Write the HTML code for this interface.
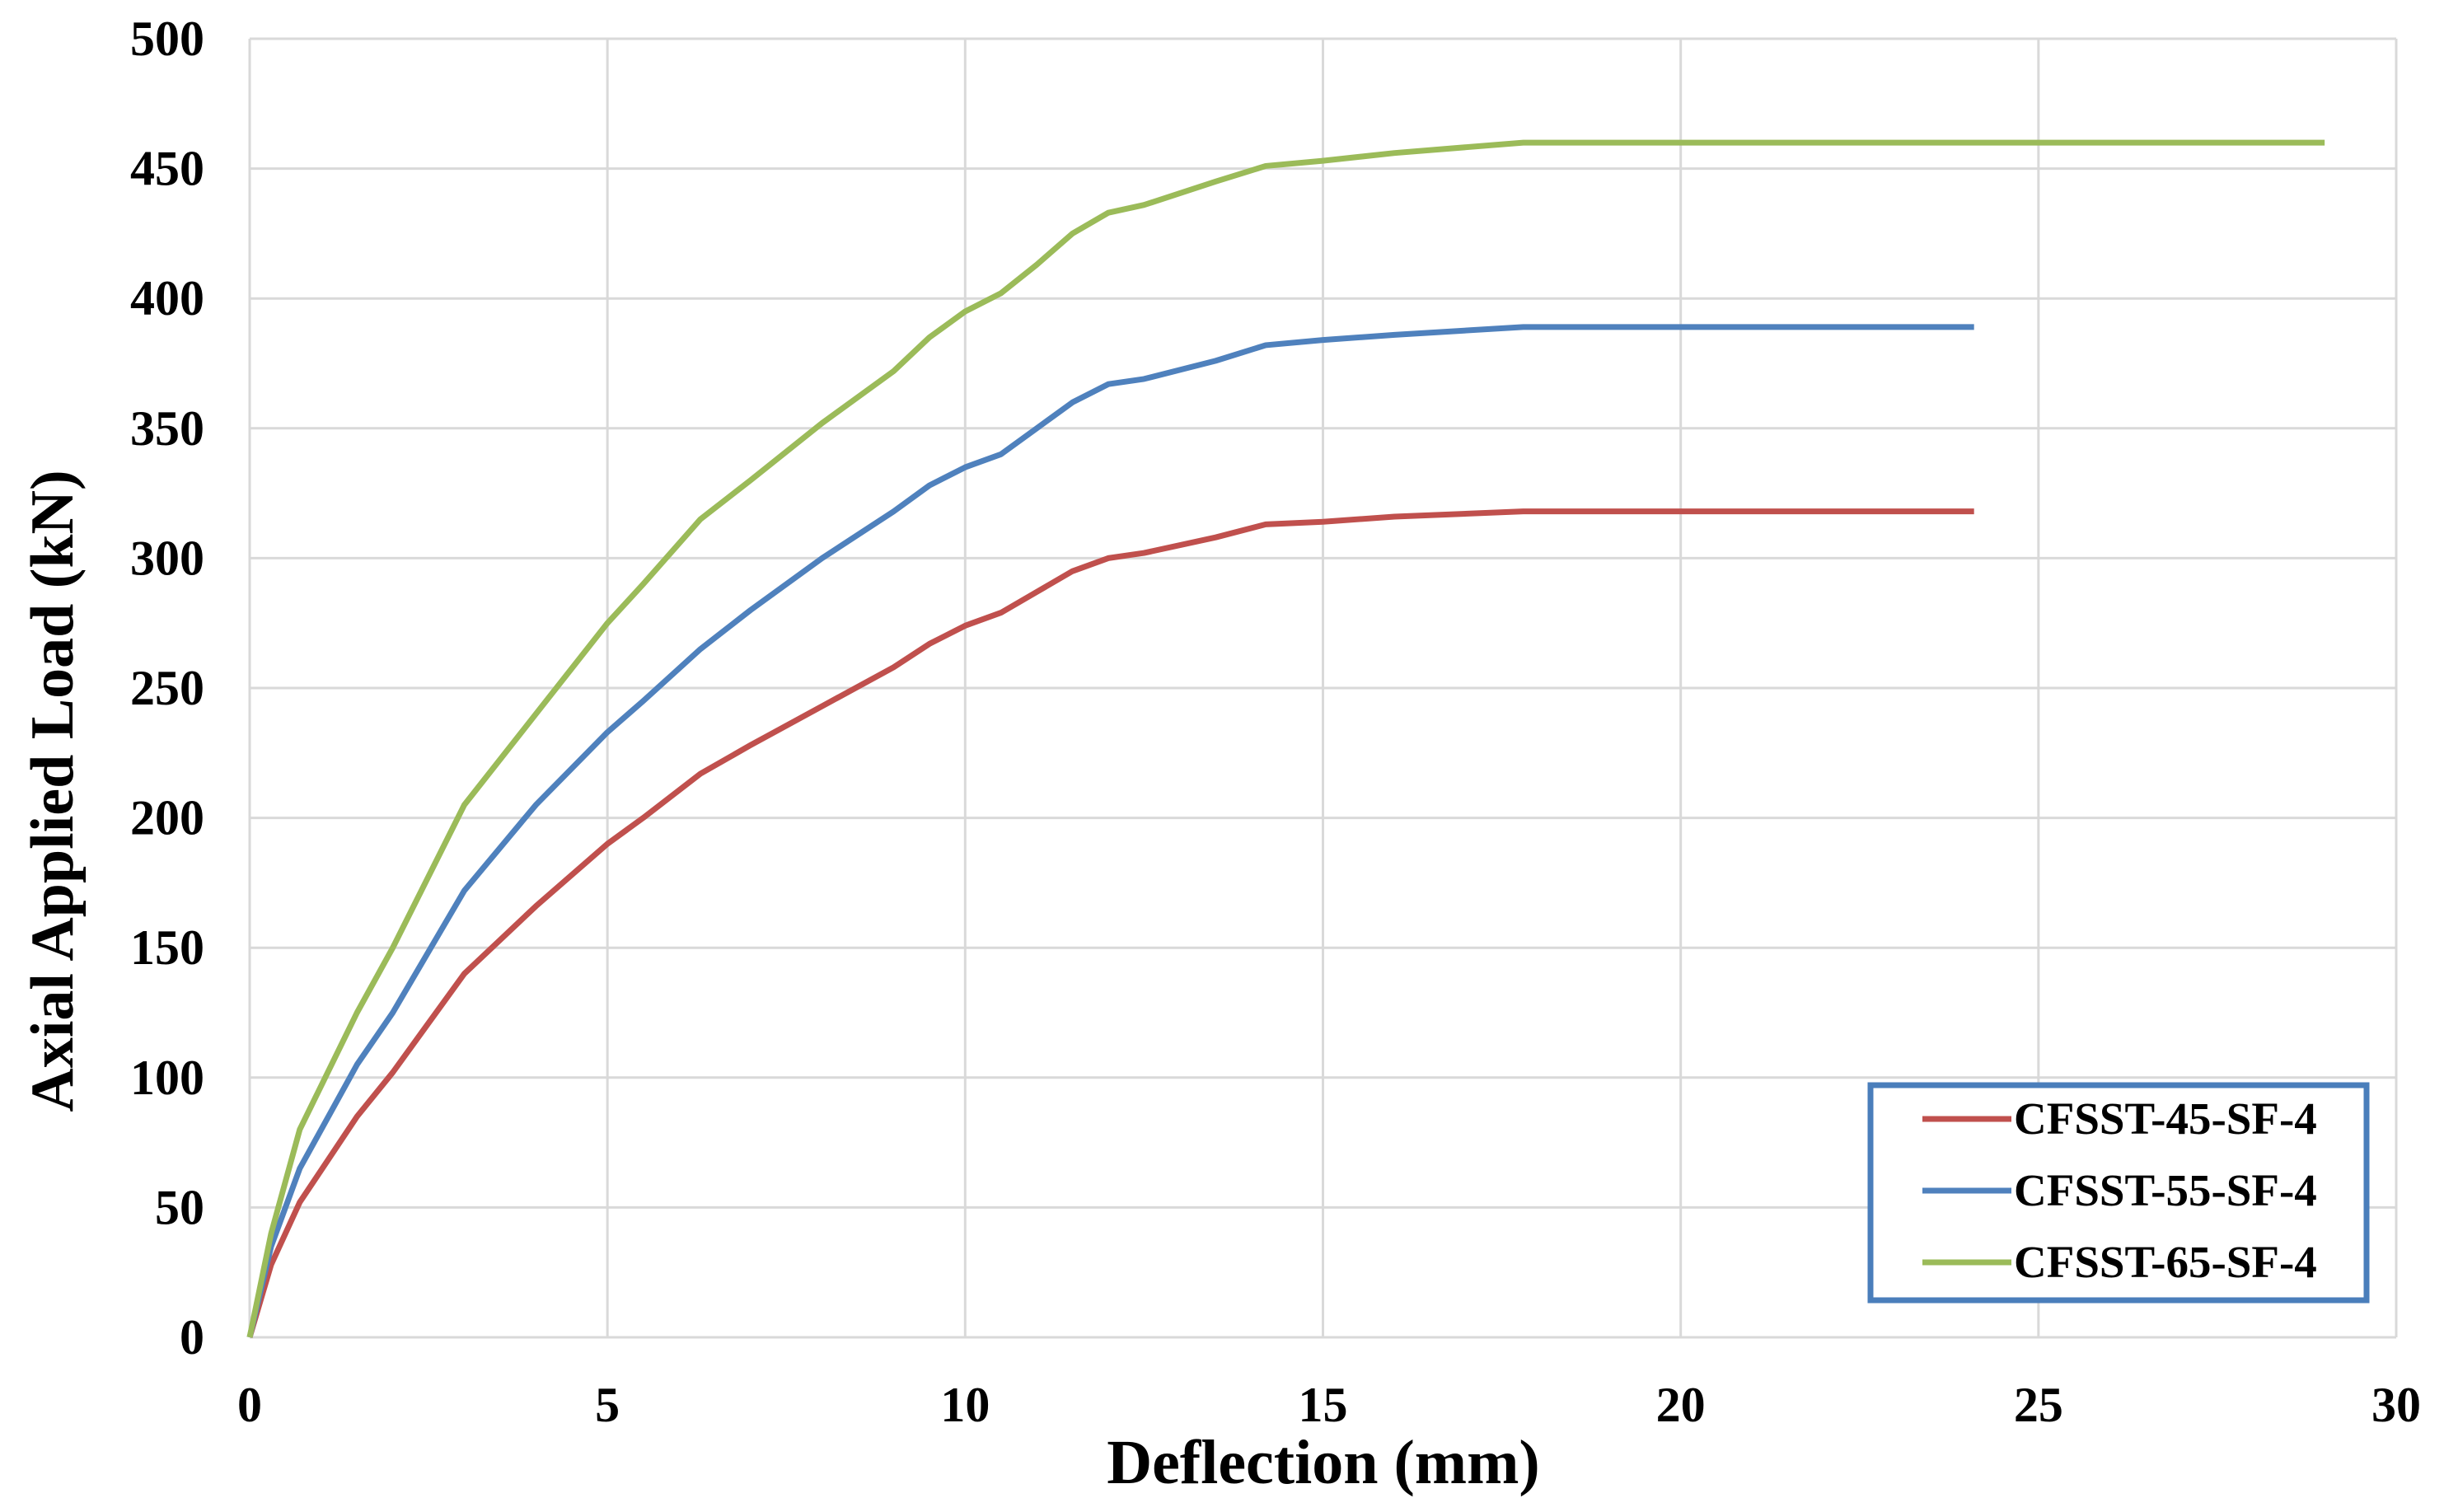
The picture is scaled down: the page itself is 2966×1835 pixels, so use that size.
<!DOCTYPE html>
<html><head><meta charset="utf-8"><style>body{margin:0;background:#fff}svg{display:block}</style></head>
<body>
<svg id="chart" width="2966" height="1835" xmlns="http://www.w3.org/2000/svg" font-family="Liberation Serif, serif" font-weight="bold">
<g id="grid"></g>
<g id="ticks"></g>
<g id="series"></g>
<text x="1606" y="1800" text-anchor="middle" font-size="76">Deflection (mm)</text>
<text transform="translate(88,960) rotate(-90)" text-anchor="middle" font-size="74">Axial Applied Load (kN)</text>
<g>
<rect x="2270" y="1317" width="602" height="261" fill="#fff" stroke="#4a7ebb" stroke-width="7"/>
<line x1="2333" y1="1358" x2="2441" y2="1358" stroke="#c0504d" stroke-width="7"/>
<text x="2444" y="1376" font-size="55">CFSST-45-SF-4</text>
<line x1="2333" y1="1445" x2="2441" y2="1445" stroke="#4f81bd" stroke-width="7"/>
<text x="2444" y="1463" font-size="55">CFSST-55-SF-4</text>
<line x1="2333" y1="1532" x2="2441" y2="1532" stroke="#9bbb59" stroke-width="7"/>
<text x="2444" y="1550" font-size="55">CFSST-65-SF-4</text>
</g>
</svg>
<script>
const xTicks=[0,5,10,15,20,25,30];
const yTicks=[0,50,100,150,200,250,300,350,400,450,500];
const seriesNames=["CFSST-45-SF-4","CFSST-55-SF-4","CFSST-65-SF-4"];
const seriesColors=["#c0504d","#4f81bd","#9bbb59"];
const xRed=[0,0.3,0.7,1.5,2,3,4,5,5.5,6.3,7,8,9,9.5,10,10.5,11,11.5,12,12.5,13.5,14.2,15,16,17.8,24.1];
const yRed=[0,28,52,85,102,140,166,190,200,217,228,243,258,267,274,279,287,295,300,302,308,313,314,316,318,318];
const xBlue=[0,0.3,0.7,1.5,2,3,4,5,5.5,6.3,7,8,9,9.5,10,10.5,11,11.5,12,12.5,13.5,14.2,15,16,17.8,24.1];
const yBlue=[0,35,65,105,125,172,205,233,245,265,280,300,318,328,335,340,350,360,367,369,376,382,384,386,389,389];
const xGreen=[0,0.3,0.7,1.5,2,3,4,5,5.5,6.3,7,8,9,9.5,10,10.5,11,11.5,12,12.5,13.5,14.2,15,16,17.8,29];
const yGreen=[0,40,80,125,150,205,240,275,290,315,330,352,372,385,395,402,413,425,433,436,445,451,453,456,460,460];
const L=303,R=2908,T=47,B=1623;
const sx=v=>L+(R-L)*v/30, sy=v=>B-(B-T)*v/500;
const NS="http://www.w3.org/2000/svg";
const grid=document.getElementById('grid'),ticks=document.getElementById('ticks'),ser=document.getElementById('series');
function mk(tag,attrs,parent){const e=document.createElementNS(NS,tag);for(const k in attrs)e.setAttribute(k,attrs[k]);parent.appendChild(e);return e;}
xTicks.forEach(t=>{
 const g=mk('line',{x1:sx(t),x2:sx(t),y1:T,y2:B,stroke:'#d9d9d9','stroke-width':3},grid);
 
 
 const tx=mk('text',{x:sx(t),y:1725,'text-anchor':'middle','font-size':60},ticks);tx.textContent=t;
 
 
});
yTicks.forEach(t=>{
 const g=mk('line',{x1:L,x2:R,y1:sy(t),y2:sy(t),stroke:'#d9d9d9','stroke-width':3},grid);
 
 
 const tx=mk('text',{x:248,y:sy(t)+20,'text-anchor':'end','font-size':60},ticks);tx.textContent=t;
 
 
});
[[xRed,yRed],[xBlue,yBlue],[xGreen,yGreen]].forEach((s,i)=>{
 const pts=s[0].map((x,j)=>sx(x)+','+sy(s[1][j])).join(' ');
 const p=mk('polyline',{points:pts,fill:'none',stroke:seriesColors[i],'stroke-width':7,'stroke-linejoin':'round'},ser);
 
 
});
</script>
</body></html>
